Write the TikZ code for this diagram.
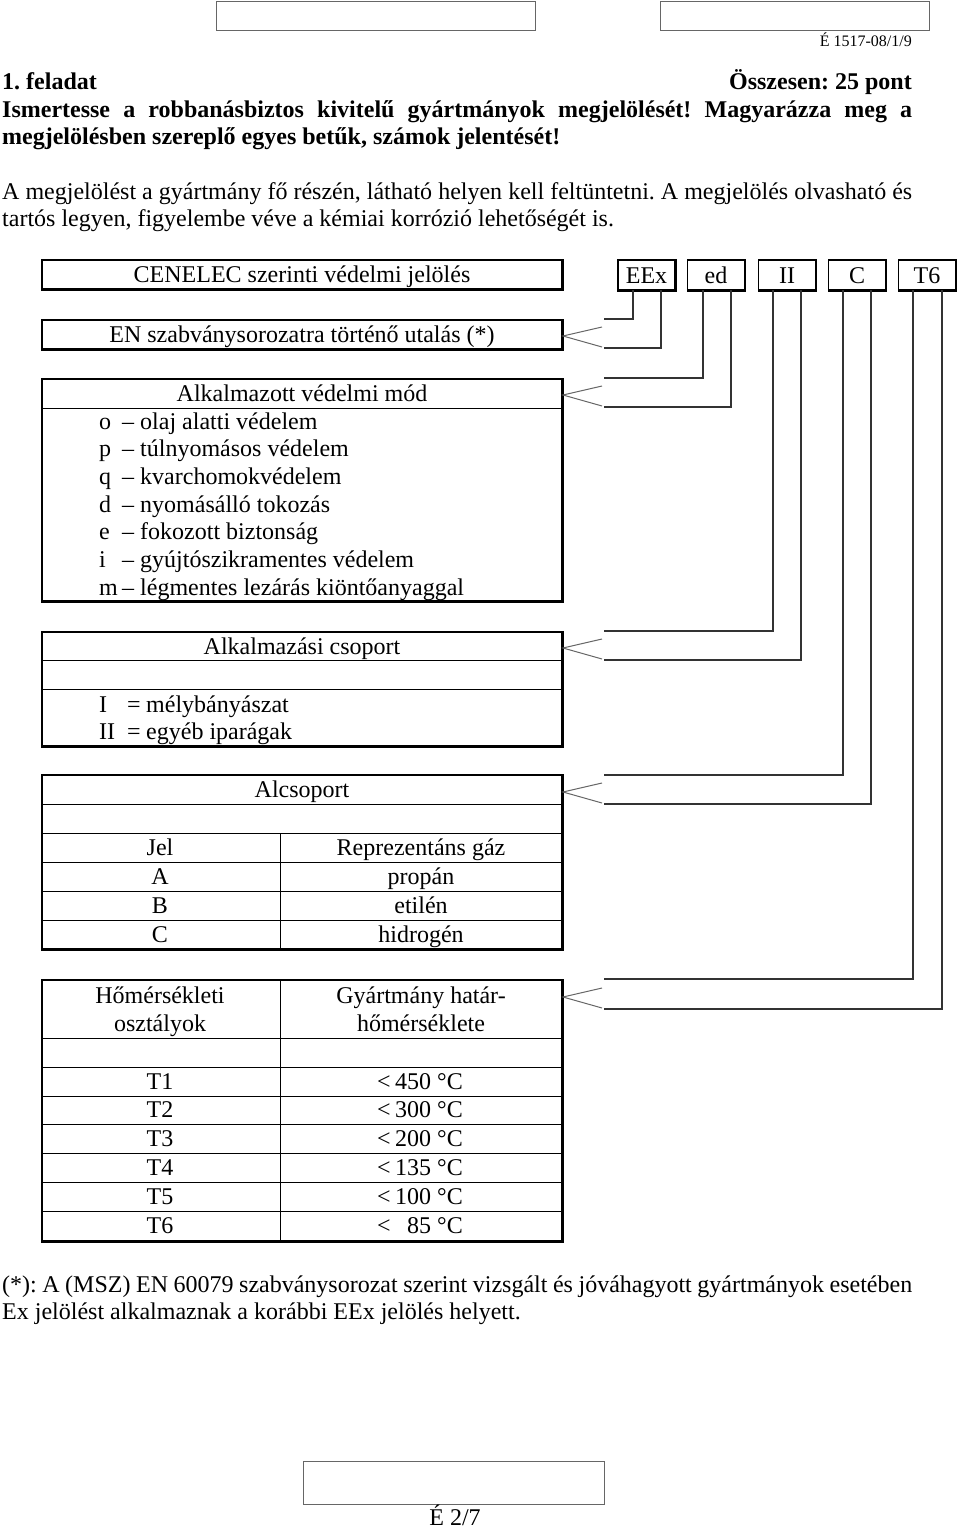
\documentclass[tikz,border=0pt]{standalone}
\usepackage{fontspec}
\setmainfont{Liberation Serif}
\frenchspacing
\begin{document}
\begin{tikzpicture}[x=1pt,y=-1pt,
  txt/.style={anchor=base, inner sep=0pt, font=\fontsize{24}{27.6}\selectfont},
  txtw/.style={txt, anchor=base west},
  txte/.style={txt, anchor=base east},
  btxt/.style={txt, font=\fontsize{24}{27.6}\selectfont\bfseries},
  frame/.style={draw=black, rectangle, inner sep=0pt, line width=1.3pt},
  codebox/.style={frame, minimum width=57pt, minimum height=30pt, font=\fontsize{24}{27.6}\selectfont, text height=16pt, text depth=0pt},
  shadowedge/.style={draw=black, line width=2.6pt},
  rowline/.style={draw=black, line width=1pt},
  conn/.style={draw=black!80, line width=1.3pt},
  chev/.style={draw=black!60, line width=1pt},
  blank/.style={draw=black!60, line width=1pt}
]
\useasboundingbox (0,0) rectangle (960,1528);

% top blank boxes
\draw[blank] (216,2) rectangle (535,31);
\draw[blank] (660,2) rectangle (929,31);
\node[txte, font=\fontsize{16}{18}\selectfont] (code) at (912,47) {É 1517-08/1/9};

% heading
\node[btxt, anchor=base west] (feladat) at (2,89) {1. feladat};
\node[btxt, anchor=base east] (pont) at (912,89) {Összesen: 25 pont};
\node[btxt, anchor=base west] (q1) at (2,117) {\makebox[910pt][s]{Ismertesse a robbanásbiztos kivitelű gyártmányok megjelölését! Magyarázza meg a}};
\node[btxt, anchor=base west] (q2) at (2,144.6) {megjelölésben szereplő egyes betűk, számok jelentését!};

\node[txtw] (p1) at (2,199) {\makebox[910pt][s]{A megjelölést a gyártmány fő részén, látható helyen kell feltüntetni. A megjelölés olvasható és}};
\node[txtw] (p2) at (2,226.6) {tartós legyen, figyelembe véve a kémiai korrózió lehetőségét is.};

% CENELEC box
\node[frame, minimum width=520pt, minimum height=29pt] (cen) at (302,274.5) {};
\draw[shadowedge] (cen.north east) -- (cen.south east) -- (cen.south west);
\node[txt] (centxt) at (302,282.5) {CENELEC szerinti védelmi jelölés};

% code boxes
\node[codebox] (eex) at (646.5,275) {EEx};
\node[codebox] (ed) at (716,275) {ed};
\node[codebox] (ii) at (787,275) {II};
\node[codebox] (cc) at (857,275) {C};
\node[codebox] (t6) at (927,275) {T6};
\foreach \b in {eex,ed,ii,cc,t6}{
  \draw[shadowedge] (\b.north east) -- (\b.south east) -- (\b.south west);
}

% EN box
\node[frame, minimum width=520pt, minimum height=29pt] (en) at (302,334.5) {};
\draw[shadowedge] (en.north east) -- (en.south east) -- (en.south west);
\node[txt] (entxt) at (302,342.5) {EN szabványsorozatra történő utalás (*)};

% Alkalmazott vedelmi mod
\node[frame, minimum width=520pt, minimum height=222pt] (alk) at (302,490) {};
\draw[shadowedge] (alk.north east) -- (alk.south east) -- (alk.south west);
\draw[rowline] (42,408) -- (562,408);
\node[txt] (alkh) at (302,401.5) {Alkalmazott védelmi mód};
\foreach \l/\t [count=\i from 0] in {o/olaj alatti védelem, p/túlnyomásos védelem, q/kvarchomokvédelem, d/nyomásálló tokozás, e/fokozott biztonság, i/gyújtószikramentes védelem, m/légmentes lezárás kiöntőanyaggal}{
  \node[txtw] (ml\i) at (99,429+27.7*\i) {\l};
  \node[txtw] (md\i) at (122,429+27.7*\i) {–};
  \node[txtw] (mt\i) at (140,429+27.7*\i) {\t};
}

% Alkalmazasi csoport
\node[frame, minimum width=520pt, minimum height=114pt] (acs) at (302,689) {};
\draw[shadowedge] (acs.north east) -- (acs.south east) -- (acs.south west);
\draw[rowline] (42,660) -- (562,660);
\draw[rowline] (42,689) -- (562,689);
\node[txt] (acsh) at (302,654) {Alkalmazási csoport};
\node[txtw] (g1l) at (99,712) {I};
\node[txtw] (g1e) at (127,712) {=};
\node[txtw] (g1t) at (146,712) {mélybányászat};
\node[txtw] (g2l) at (99,739.6) {II};
\node[txtw] (g2e) at (127,739.6) {=};
\node[txtw] (g2t) at (146,739.6) {egyéb iparágak};

% Alcsoport
\node[frame, minimum width=520pt, minimum height=174pt] (alc) at (302,862) {};
\draw[shadowedge] (alc.north east) -- (alc.south east) -- (alc.south west);
\foreach \yy in {804,833,862,891,920}{ \draw[rowline] (42,\yy) -- (562,\yy); }
\draw[rowline] (280,833) -- (280,949);
\node[txt] (alch) at (302,797.5) {Alcsoport};
\node[txt] (jel) at (160,855.5) {Jel};
\node[txt] (rep) at (421,855.5) {Reprezentáns gáz};
\node[txt] (ja) at (160,884.5) {A};
\node[txt] (ra) at (421,884.5) {propán};
\node[txt] (jb) at (160,913.5) {B};
\node[txt] (rb) at (421,913.5) {etilén};
\node[txt] (jc) at (160,942.5) {C};
\node[txt] (rc) at (421,942.5) {hidrogén};

% Homersekleti osztalyok
\node[frame, minimum width=520pt, minimum height=261pt] (hom) at (302,1110.5) {};
\draw[shadowedge] (hom.north east) -- (hom.south east) -- (hom.south west);
\foreach \yy in {1038,1067,1096,1124.8,1153.6,1182.4,1211.2}{ \draw[rowline] (42,\yy) -- (562,\yy); }
\draw[rowline] (280,980) -- (280,1241);
\node[txt] (h1) at (160,1003) {Hőmérsékleti};
\node[txt] (h2) at (160,1031.6) {osztályok};
\node[txt] (h3) at (421,1003) {Gyártmány határ-};
\node[txt] (h4) at (421,1031.6) {hőmérséklete};
\foreach \c/\v [count=\i from 0] in {T1/450, T2/300, T3/200, T4/135, T5/100, T6/85}{
  \node[txt] (tc\i) at (160,1089+28.8*\i) {\c};
  \node[txtw] (tl\i) at (377,1089+28.8*\i) {<};
  \node[txte] (tv\i) at (463,1089+28.8*\i) {\v{} °C};
}

% connectors
\coordinate (eexA) at (633,290);
\coordinate (eexB) at (661,290);
\coordinate (edA) at (703,290);
\coordinate (edB) at (731,290);
\coordinate (iiA) at (773,290);
\coordinate (iiB) at (801,290);
\coordinate (ccA) at (843,290);
\coordinate (ccB) at (871,290);
\coordinate (t6A) at (913,290);
\coordinate (t6B) at (942,290);
\coordinate (enA) at (604,319);
\coordinate (enB) at (604,348);
\coordinate (alkA) at (604,378);
\coordinate (alkB) at (604,407);
\coordinate (acsA) at (604,631);
\coordinate (acsB) at (604,660);
\coordinate (alcA) at (604,775);
\coordinate (alcB) at (604,804);
\coordinate (homA) at (604,979);
\coordinate (homB) at (604,1009);
\draw[conn] (eexA) |- (enA);
\draw[conn] (eexB) |- (enB);
\draw[conn] (edA) |- (alkA);
\draw[conn] (edB) |- (alkB);
\draw[conn] (iiA) |- (acsA);
\draw[conn] (iiB) |- (acsB);
\draw[conn] (ccA) |- (alcA);
\draw[conn] (ccB) |- (alcB);
\draw[conn] (t6A) |- (homA);
\draw[conn] (t6B) |- (homB);

% chevrons
\coordinate (enTip) at (563,336);
\coordinate (alkTip) at (563,395);
\coordinate (acsTip) at (563,648);
\coordinate (alcTip) at (563,792);
\coordinate (homTip) at (563,997);
\foreach \t in {enTip,alkTip,acsTip,alcTip,homTip}{
  \draw[chev] (\t) ++(39,-9) -- (\t) -- ++(39,11);
}

% footnote
\node[txtw] (f1) at (2,1292) {\makebox[910pt][s]{(*): A (MSZ) EN 60079 szabványsorozat szerint vizsgált és jóváhagyott gyártmányok esetében}};
\node[txtw] (f2) at (2,1319.6) {Ex jelölést alkalmaznak a korábbi EEx jelölés helyett.};

% bottom box
\draw[blank] (303,1461) rectangle (604,1504);
\node[txt] (page) at (455,1525) {É 2/7};
\end{tikzpicture}
\end{document}
